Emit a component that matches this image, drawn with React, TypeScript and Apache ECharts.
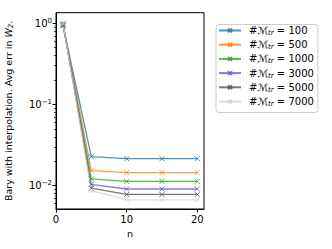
import React, { useEffect, useRef } from "react";
import * as echarts from "echarts";

const nValues = [1, 5, 10, 15, 20];
const seriesNames = ["100", "500", "1000", "3000", "5000", "7000"];
const err100 = [0.93, 0.0228, 0.0215, 0.0215, 0.0215];
const err500 = [0.96, 0.0153, 0.0145, 0.0145, 0.0145];
const err1000 = [0.95, 0.0121, 0.0113, 0.0113, 0.0113];
const err3000 = [0.97, 0.0104, 0.0091, 0.0091, 0.0091];
const err5000 = [1.0, 0.0093, 0.0078, 0.0078, 0.0078];
const err7000 = [0.98, 0.0087, 0.0067, 0.0067, 0.0067];
const allErr = [err100, err500, err1000, err3000, err5000, err7000];
const colors = ["#1f77b4", "#ff7f0e", "#2ca02c", "#6a5acd", "#555555", "#d3d3d3"];
const xTicks = [0, 10, 20];
const yMajor = [0.01, 0.1, 1];
const yMinor = [0.006, 0.007, 0.008, 0.009, 0.02, 0.03, 0.04, 0.05, 0.06, 0.07, 0.08, 0.09, 0.2, 0.3, 0.4, 0.5, 0.6, 0.7, 0.8, 0.9];

const FONT = "DejaVu Sans";
const xMark = "path://M0,0L10,10M10,0L0,10";

export default function App() {
  const ref = useRef<HTMLDivElement>(null);
  useEffect(() => {
    const chart = echarts.init(ref.current!, null, { renderer: "svg" });
    const yBase = {
      type: "log" as const,
      logBase: 10,
      min: 0.00516,
      max: 1.35,
      position: "left" as const,
      splitLine: { show: false },
      axisLine: { show: true, lineStyle: { color: "#000", width: 1 } },
    };
    chart.setOption({
      animation: false,
      textStyle: { fontFamily: FONT },
      grid: {
        left: 56,
        right: 128,
        top: 12.7,
        bottom: 40,
        show: true,
        borderColor: "#000",
        borderWidth: 1,
        backgroundColor: "transparent",
      },
      legend: {
        left: 216,
        top: 24.5,
        orient: "vertical",
        itemWidth: 22,
        itemHeight: 5,
        itemGap: 3.2,
        padding: [1, 4, 5, 2],
        backgroundColor: "#fff",
        borderColor: "#cccccc",
        borderWidth: 1,
        borderRadius: 3,
        textStyle: {
          fontFamily: FONT,
          fontSize: 10,
          color: "#000",
          padding: [0, 0, 0, 3],
          rich: {
            m: { fontFamily: FONT, fontSize: 10, fontStyle: "italic", color: "#000", lineHeight: 12 },
            s: { fontFamily: FONT, fontSize: 7, fontStyle: "italic", color: "#000", verticalAlign: "bottom", lineHeight: 12, padding: [4, 0, 0, 0] },
            t: { fontFamily: FONT, fontSize: 10, color: "#000", lineHeight: 12 },
          },
        },
        formatter: (name: string) => `{t|#}{m|ℳ}{s|tr}{t| = ${name}}`,
        data: seriesNames,
      },
      xAxis: {
        type: "value",
        min: 0,
        max: 20.95,
        name: "n",
        nameLocation: "middle",
        nameGap: 19,
        nameTextStyle: { fontFamily: FONT, fontSize: 9.5, color: "#000" },
        splitLine: { show: false },
        axisLine: { show: true, onZero: false, lineStyle: { color: "#000", width: 1 } },
        axisTick: { show: true, length: 3.5, customValues: xTicks, lineStyle: { color: "#000" } },
        axisLabel: { customValues: xTicks, fontFamily: FONT, fontSize: 10, color: "#000", margin: 5 },
      },
      yAxis: [
        {
          ...yBase,
          name: "",
          axisTick: { show: true, length: 3.5, customValues: yMajor, lineStyle: { color: "#000" } },
          axisLabel: {
            customValues: yMajor,
            margin: 4,
            formatter: (v: number) => {
              const e = Math.round(Math.log10(v));
              const es = e < 0 ? "\u2212" + String(-e) : String(e);
              return `{b|10}{p|${es}}`;
            },
            rich: {
              b: { fontFamily: FONT, fontSize: 10, color: "#000", lineHeight: 12 },
              p: { fontFamily: FONT, fontSize: 7, color: "#000", verticalAlign: "top", lineHeight: 12, padding: [0, 0, 5, 0] },
            },
          },
        },
        {
          ...yBase,
          name: "Bary with interpolation. Avg err in {i|W}{s|2}.",
          nameLocation: "middle",
          nameRotate: 90,
          nameGap: 42,
          nameTextStyle: {
            fontFamily: FONT,
            fontSize: 9.5,
            color: "#000",
            rich: {
              i: { fontFamily: FONT, fontSize: 9.5, fontStyle: "italic", color: "#000" },
              s: { fontFamily: FONT, fontSize: 7, fontStyle: "italic", color: "#000", padding: [4, 0, 0, 0] },
            },
          },
          axisTick: { show: true, length: 2, customValues: yMinor, lineStyle: { color: "#000", width: 0.7 } },
          axisLabel: { show: false },
        },
      ],
      series: allErr.map((vals, i) => ({
        type: "line",
        name: seriesNames[i],
        yAxisIndex: 0,
        data: nValues.map((n, j) => [n, vals[j]]),
        symbol: xMark,
        symbolSize: 5,
        showSymbol: true,
        color: colors[i],
        lineStyle: { width: 1.3, color: colors[i], opacity: 0.8 },
        itemStyle: { color: colors[i], borderColor: colors[i], borderWidth: 1, opacity: 0.8 },
      })),
    });
    return () => chart.dispose();
  }, []);
  return <div ref={ref} style={{ width: 332, height: 249, position: "absolute", left: 0, top: 0 }} />;
}
